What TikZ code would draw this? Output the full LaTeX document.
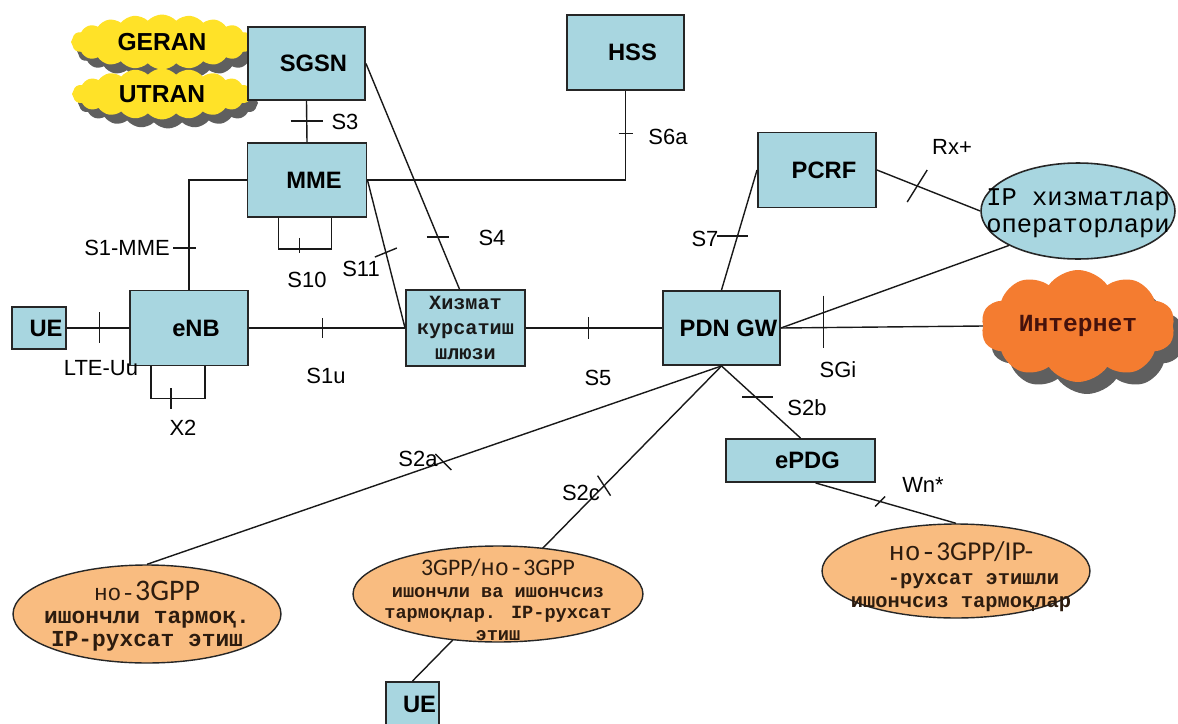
\documentclass[tikz,border=0pt]{standalone}
\usepackage{fontspec}
\setsansfont{Liberation Sans}
\newfontfamily\monofam{Liberation Mono}
\newfontfamily\carlfam{Carlito}
\usetikzlibrary{shapes.geometric,shapes.symbols,calc}

\definecolor{boxblue}{RGB}{168,214,224}
\definecolor{netorange}{RGB}{249,188,128}
\definecolor{inetorange}{RGB}{244,124,48}
\definecolor{cloudyellow}{RGB}{255,226,40}
\definecolor{shadowgray}{RGB}{95,95,95}
\definecolor{inkbrown}{RGB}{45,28,15}
\definecolor{inetink}{RGB}{70,18,12}

\tikzset{
  boxbase/.style={draw=black!85, line width=1.1pt, fill=boxblue, inner sep=0pt},
  box/.style={boxbase, font=\sffamily\bfseries\fontsize{13.5}{15}\selectfont,
    execute at begin node=\hspace*{0.28cm}},
  link/.style={draw=black!90, line width=0.8pt},
  tick/.style={draw=black!90, line width=0.8pt},
  lbl/.style={font=\sffamily\fontsize{12.5}{14}\selectfont, inner sep=0pt},
  netell/.style={ellipse, draw=black!85, line width=0.8pt, fill=netorange, inner sep=0pt},
  nettext/.style={align=center, text=inkbrown, inner sep=0pt},
  cloudbase/.style={cloud, cloud puffs=20, cloud puff arc=95, cloud ignores aspect, inner sep=0pt},
  cloudtext/.style={font=\sffamily\bfseries\fontsize{14}{16}\selectfont, text=black}
}

\begin{document}
\begin{tikzpicture}[x=0.02cm, y=-0.02cm]
\useasboundingbox (0,0) rectangle (1178,724);
\fill[white] (0,0) rectangle (1178,724);

% ---- radio access clouds (GERAN / UTRAN) ----
\node[cloudbase, fill=shadowgray, minimum width=3.64cm, minimum height=1.1cm] (geransh) at (168,51) {};
\node[cloudbase, fill=cloudyellow, minimum width=3.64cm, minimum height=1.1cm, cloudtext] (geran) at (162,42) {GERAN};
\node[cloudbase, fill=shadowgray, minimum width=3.6cm, minimum height=1.02cm] (utransh) at (168,103) {};
\node[cloudbase, fill=cloudyellow, minimum width=3.6cm, minimum height=1.02cm, cloudtext] (utran) at (162,94) {UTRAN};

% ---- Internet cloud ----
\node[cloudbase, cloud puffs=10, cloud puff arc=110, fill=shadowgray, minimum width=3.88cm, minimum height=2.24cm] (inetsh) at (1087,338) {};
\node[cloudbase, cloud puffs=10, cloud puff arc=110, fill=inetorange, minimum width=3.88cm, minimum height=2.24cm,
      font=\monofam\bfseries\fontsize{14}{16}\selectfont, text=inetink] (inet) at (1078,326) {Интернет};

% ---- core network elements ----
\node[box, minimum width=2.34cm, minimum height=1.46cm] (sgsn) at (306.5,63.5) {SGSN};
\node[box, minimum width=2.34cm, minimum height=1.5cm] (hss) at (625.5,52.5) {HSS};
\node[box, minimum width=2.38cm, minimum height=1.48cm] (mme) at (307,180) {MME};
\node[box, minimum width=2.36cm, minimum height=1.5cm] (enb) at (189,328) {eNB};
\node[box, minimum width=1.08cm, minimum height=0.84cm] (ue) at (39,328) {UE};
\node[boxbase, minimum width=2.38cm, minimum height=1.52cm, align=center,
      font=\monofam\bfseries\fontsize{11.5}{14.2}\selectfont, text=black!90] (sgw) at (465.5,328)
      {Хизмат\\курсатиш\\шлюзи};
\node[box, minimum width=2.34cm, minimum height=1.48cm] (pdn) at (721.5,328) {PDN GW};
\node[box, minimum width=2.36cm, minimum height=1.5cm] (pcrf) at (817,170) {PCRF};
\node[box, minimum width=2.98cm, minimum height=0.86cm] (epdg) at (800.5,460.5) {ePDG};
\node[box, minimum width=1.06cm, minimum height=0.88cm] (ue2) at (412.5,704) {UE};

% ---- IP services ellipse ----
\node[ellipse, draw=black!85, line width=0.9pt, fill=boxblue, inner sep=0pt,
      minimum width=3.88cm, minimum height=1.92cm] (ip) at (1078,211) {};

% ---- interfaces ----
\draw[link] (sgsn.south) -- (mme.north) coordinate[pos=0.49] (tS3);
\draw[link] (mme.east) -| (hss.south) coordinate[pos=0.76] (tS6a);
\draw[link] (mme.west) -| (enb.north) coordinate[pos=0.81] (tS1mme);
\draw[link] (ue.east) -- (enb.west) coordinate[pos=0.52] (tLTE);
\draw[link] (enb.east) -- (sgw.west) coordinate[pos=0.47] (tS1u);
\draw[link] (sgw.east) -- (pdn.west) coordinate[pos=0.46] (tS5);
\draw[link] (sgsn.east) -- ($(sgw.north west)!0.45!(sgw.north east)$) coordinate[pos=0.77] (tS4);
\draw[link] (mme.east) -- (sgw.west) coordinate[pos=0.49] (tS11);
\draw[link] (pdn.north) -- (pcrf.west) coordinate[pos=0.45] (tS7);
\draw[link] (pcrf.east) -- (ip.west) coordinate[pos=0.39] (tRx);
\draw[link] (pdn.east) -- (ip.south west);
\draw[link] (pdn.east) -- (inet.west) coordinate[pos=0.21] (tSGi);
\draw[link] (pdn.south) -- (epdg.north) coordinate[pos=0.43] (tS2b);
\draw[link] (pdn.south) -- (ue2.north) coordinate[pos=0.38] (tS2c);

% X2 and S10 loops
\draw[link] ($(enb.south west)+(22,0)$) -- ++(0,32) coordinate (x2a) -| ($(enb.south west)+(76,0)$);
\draw[link] ($(mme.south west)+(32,0)$) -- ++(0,31) coordinate (s10a) -| ($(mme.south west)+(85,0)$);

% ---- non-3GPP access networks ----
\node[netell, minimum width=5.36cm, minimum height=1.96cm] (lell) at (147,614) {};
\draw[link] (pdn.south) -- (lell.north) coordinate[pos=0.484] (tS2a);
\node[netell, minimum width=5.8cm, minimum height=1.92cm] (mell) at (498,594) {};
\node[netell, minimum width=5.36cm, minimum height=1.88cm] (rell) at (956,571) {};
\draw[link] ($(epdg.south west)!0.6!(epdg.south east)$) -- (rell.north) coordinate[pos=0.46] (tWn);

% ---- ellipse texts ----
\node[nettext, font=\monofam\fontsize{14.5}{15.5}\selectfont, text=black] (iptext) at (1078,213)
  {IP хизматлар\\операторлари};
\node[nettext, font=\monofam\bfseries\fontsize{13}{13.2}\selectfont] (ltext) at (147,616)
  {{\mdseries но-}{\carlfam\mdseries\fontsize{17}{17}\selectfont 3GPP}\\ишончли тармоқ.\\IP-рухсат этиш};
\node[nettext, font=\monofam\bfseries\fontsize{10.6}{12.3}\selectfont] (mtext) at (498,600)
  {{\carlfam\mdseries\fontsize{13.5}{14}\selectfont 3GPP/}{\mdseries\fontsize{13.5}{14}\selectfont но-}{\carlfam\mdseries\fontsize{13.5}{14}\selectfont 3GPP}\\ишончли ва ишончсиз\\тармоқлар. IP-рухсат\\этиш};
\node[nettext, font=\monofam\bfseries\fontsize{11.6}{13.3}\selectfont] (rtext) at (961,577)
  {{\mdseries\fontsize{15}{15}\selectfont но-}{\carlfam\mdseries\fontsize{15.5}{15.5}\selectfont 3GPP/IP-}\\\hspace*{0.5cm}-рухсат этишли\\ишончсиз тармоқлар};

% ---- interface ticks ----
\draw[tick] ([shift={(-16,0)}]tS3) -- ([shift={(16,0)}]tS3);
\draw[tick] ([shift={(-7,0)}]tS6a) -- ([shift={(7,0)}]tS6a);
\draw[tick] ([shift={(-16,0)}]tS1mme) -- ([shift={(7,0)}]tS1mme);
\draw[tick] ([shift={(0,-16)}]tLTE) -- ([shift={(0,15)}]tLTE);
\draw[tick] ([shift={(0,-10)}]tS1u) -- ([shift={(0,10)}]tS1u);
\draw[tick] ([shift={(0,-11)}]tS5) -- ([shift={(0,11)}]tS5);
\draw[tick] ([shift={(-11,0)}]tS4) -- ([shift={(11,0)}]tS4);
\draw[tick] ([shift={(-11,4.5)}]tS11) -- ([shift={(11,-4.5)}]tS11);
\draw[tick] ([shift={(-20,0)}]tS7) -- ([shift={(11,0)}]tS7);
\draw[tick] ([shift={(-10,16)}]tRx) -- ([shift={(10,-16)}]tRx);
\draw[tick] ([shift={(0,-32)}]tSGi) -- ([shift={(0,20)}]tSGi);
\draw[tick] ([shift={(-13,0)}]tS2b) -- ([shift={(18,0)}]tS2b);
\draw[tick] ([shift={(-8,-8)}]tS2a) -- ([shift={(8,8)}]tS2a);
\draw[tick] ([shift={(-6.5,-10)}]tS2c) -- ([shift={(6.5,10)}]tS2c);
\draw[tick] ([shift={(-5,5)}]tWn) -- ([shift={(5,-5)}]tWn);
\draw[tick] ([shift={(20,-10)}]x2a) -- ([shift={(20,11)}]x2a);
\draw[tick] ([shift={(21,-11)}]s10a) -- ([shift={(21,4)}]s10a);

% ---- interface labels ----
\node[lbl] (lS3) at (345,122) {S3};
\node[lbl] (lS6a) at (668,137) {S6a};
\node[lbl] (lS1mme) at (127,248) {S1-MME};
\node[lbl] (lLTE) at (101,368) {LTE-Uu};
\node[lbl] (lS1u) at (326,376) {S1u};
\node[lbl] (lS5) at (598,378) {S5};
\node[lbl] (lX2) at (183,428) {X2};
\node[lbl] (lS10) at (307,280) {S10};
\node[lbl] (lS11) at (361,269) {S11};
\node[lbl] (lS4) at (492,238) {S4};
\node[lbl] (lS7) at (705,239) {S7};
\node[lbl] (lRx) at (952,147) {Rx+};
\node[lbl] (lSGi) at (838,370) {SGi};
\node[lbl] (lS2b) at (807,408) {S2b};
\node[lbl] (lS2a) at (418,459) {S2a};
\node[lbl] (lS2c) at (581,493) {S2c};
\node[lbl] (lWn) at (923,485) {Wn*};
\end{tikzpicture}
\end{document}
